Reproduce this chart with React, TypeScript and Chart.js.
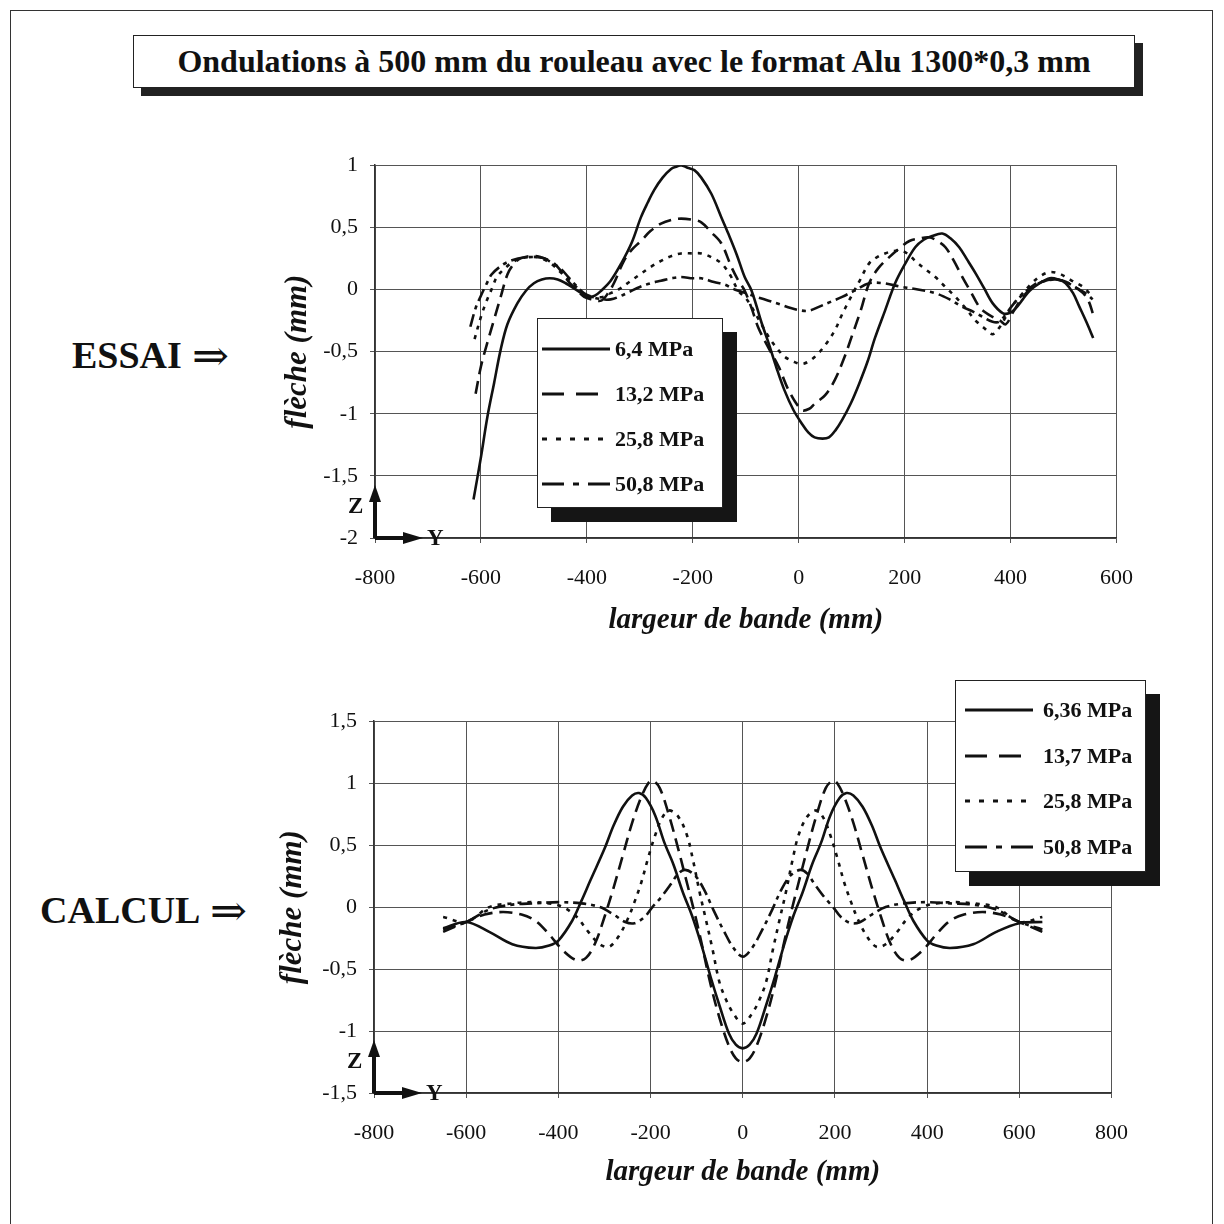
import React, { useEffect, useRef } from "react";
import { Chart, registerables } from "chart.js";

Chart.register(...registerables);

// ---------- DATA ----------
const titleText = "Ondulations à 500 mm du rouleau avec le format Alu 1300*0,3 mm";
const xAxisTitle = "largeur de bande (mm)";
const yAxisTitle = "flèche (mm)";

// ESSAI (measured) : [largeur (mm), flèche (mm)]
const essaiLabels = ["6,4 MPa", "13,2 MPa", "25,8 MPa", "50,8 MPa"];
const essai64: [number, number][] = [
  [-614, -1.69], [-600, -1.35], [-588, -1.03], [-575, -0.75], [-563, -0.49], [-550, -0.28], [-531, -0.11],
  [-515, -0.01], [-500, 0.05], [-485, 0.08], [-470, 0.09], [-455, 0.08], [-440, 0.05], [-425, 0.01],
  [-410, -0.03], [-398, -0.06], [-385, -0.05], [-373, -0.01], [-355, 0.07], [-335, 0.21], [-315, 0.38],
  [-298, 0.58], [-285, 0.7], [-273, 0.8], [-257, 0.9], [-241, 0.97], [-230, 0.99], [-222, 1.0],
  [-210, 0.98], [-197, 0.96], [-184, 0.9], [-165, 0.77], [-146, 0.58], [-133, 0.45], [-117, 0.28],
  [-102, 0.1], [-89, -0.01], [-70, -0.27], [-57, -0.43], [-42, -0.63], [-27, -0.81], [-10, -0.97],
  [6, -1.08], [18, -1.15], [30, -1.19], [45, -1.2], [57, -1.19], [70, -1.13], [82, -1.05], [98, -0.92],
  [114, -0.76], [130, -0.58], [144, -0.39], [163, -0.17], [182, 0.05], [200, 0.2], [220, 0.34],
  [236, 0.4], [252, 0.43], [271, 0.45], [287, 0.41], [303, 0.34], [318, 0.24], [334, 0.13], [350, 0.01],
  [366, -0.11], [385, -0.19], [398, -0.19], [410, -0.15], [423, -0.08], [436, -0.01], [455, 0.05],
  [474, 0.09], [490, 0.08], [504, 0.05], [518, -0.03], [530, -0.14], [543, -0.26], [556, -0.39],
];
const essai132: [number, number][] = [
  [-610, -0.84], [-600, -0.62], [-588, -0.43], [-575, -0.24], [-562, -0.05], [-550, 0.12], [-537, 0.21],
  [-525, 0.25], [-505, 0.27], [-487, 0.26], [-474, 0.24], [-462, 0.21], [-449, 0.15], [-436, 0.07],
  [-420, 0.0], [-405, -0.06], [-390, -0.08], [-373, -0.09], [-360, -0.03], [-349, 0.05], [-330, 0.23],
  [-315, 0.32], [-298, 0.39], [-280, 0.47], [-260, 0.53], [-240, 0.56], [-222, 0.57], [-200, 0.56],
  [-184, 0.54], [-165, 0.46], [-146, 0.37], [-127, 0.18], [-115, 0.08], [-102, -0.01], [-89, -0.15],
  [-76, -0.31], [-57, -0.47], [-38, -0.62], [-18, -0.82], [6, -0.97], [20, -0.96], [30, -0.92],
  [50, -0.85], [68, -0.73], [85, -0.56], [100, -0.38], [117, -0.17], [133, 0.05], [150, 0.17],
  [171, 0.26], [190, 0.33], [209, 0.39], [228, 0.41], [246, 0.42], [262, 0.39], [277, 0.34], [293, 0.23],
  [309, 0.1], [325, -0.02], [341, -0.14], [354, -0.19], [366, -0.22], [380, -0.25], [391, -0.28],
  [405, -0.18], [423, -0.06], [445, 0.03], [466, 0.07], [485, 0.08], [499, 0.07], [518, 0.03],
  [537, -0.03], [548, -0.1], [555, -0.19],
];
const essai258: [number, number][] = [
  [-612, -0.4], [-600, -0.22], [-590, -0.1], [-578, 0.02], [-570, 0.1], [-555, 0.17], [-540, 0.22],
  [-525, 0.25], [-510, 0.26], [-495, 0.26], [-480, 0.24], [-465, 0.2], [-450, 0.14], [-435, 0.08],
  [-420, 0.02], [-405, -0.04], [-390, -0.06], [-370, -0.06], [-355, -0.03], [-340, 0.0], [-320, 0.06],
  [-300, 0.12], [-280, 0.18], [-260, 0.23], [-240, 0.27], [-222, 0.29], [-200, 0.29], [-184, 0.29],
  [-165, 0.26], [-146, 0.21], [-130, 0.12], [-114, -0.01], [-100, -0.07], [-89, -0.14], [-73, -0.26],
  [-57, -0.38], [-40, -0.48], [-27, -0.54], [-10, -0.58], [6, -0.6], [22, -0.57], [38, -0.51],
  [53, -0.43], [68, -0.33], [82, -0.2], [95, -0.09], [115, 0.07], [133, 0.21], [148, 0.26], [163, 0.29],
  [180, 0.31], [195, 0.31], [208, 0.28], [220, 0.23], [240, 0.16], [258, 0.1], [277, 0.02], [296, -0.06],
  [315, -0.15], [334, -0.25], [350, -0.31], [366, -0.36], [380, -0.3], [391, -0.22], [405, -0.12],
  [423, -0.03], [440, 0.05], [457, 0.11], [474, 0.14], [490, 0.13], [504, 0.1], [520, 0.06], [537, 0.02],
  [555, -0.06],
];
const essai508: [number, number][] = [
  [-620, -0.3], [-610, -0.15], [-600, -0.05], [-590, 0.04], [-580, 0.12], [-565, 0.18], [-550, 0.22],
  [-530, 0.25], [-510, 0.26], [-495, 0.26], [-480, 0.25], [-465, 0.21], [-450, 0.17], [-435, 0.1],
  [-420, 0.03], [-405, -0.03], [-390, -0.06], [-370, -0.08], [-355, -0.08], [-340, -0.06], [-320, -0.02],
  [-300, 0.02], [-280, 0.05], [-260, 0.07], [-240, 0.09], [-222, 0.1], [-200, 0.09], [-184, 0.09],
  [-160, 0.06], [-140, 0.04], [-121, 0.0], [-100, -0.03], [-80, -0.06], [-57, -0.09], [-35, -0.12],
  [-15, -0.15], [6, -0.17], [20, -0.17], [38, -0.14], [60, -0.1], [82, -0.06], [105, -0.01], [133, 0.05],
  [160, 0.05], [195, 0.02], [225, 0.0], [258, -0.03], [285, -0.08], [309, -0.14], [330, -0.18],
  [347, -0.22], [366, -0.26], [378, -0.26], [391, -0.2], [405, -0.12], [423, -0.04], [445, 0.04],
  [466, 0.07], [485, 0.08], [505, 0.06], [525, 0.01], [542, -0.03], [555, -0.08],
];

// CALCUL (computed) : [largeur (mm), flèche (mm)]
const calculLabels = ["6,36 MPa", "13,7 MPa", "25,8 MPa", "50,8 MPa"];
const calcul636: [number, number][] = [
  [-650, -0.17], [-600, -0.12], [-550, -0.2], [-500, -0.3], [-450, -0.33], [-420, -0.31], [-400, -0.27],
  [-370, -0.11], [-350, 0.05], [-330, 0.22], [-300, 0.47], [-280, 0.66], [-260, 0.81], [-240, 0.9],
  [-225, 0.92], [-210, 0.88], [-190, 0.74], [-170, 0.52], [-150, 0.34], [-130, 0.12], [-110, -0.07],
  [-90, -0.3], [-70, -0.56], [-50, -0.8], [-30, -1.02], [-15, -1.11], [0, -1.14], [15, -1.11],
  [30, -1.02], [50, -0.8], [70, -0.56], [90, -0.3], [110, -0.07], [130, 0.12], [150, 0.34], [170, 0.52],
  [190, 0.74], [210, 0.88], [225, 0.92], [240, 0.9], [260, 0.81], [280, 0.66], [300, 0.47], [330, 0.22],
  [350, 0.05], [370, -0.11], [400, -0.27], [420, -0.31], [450, -0.33], [500, -0.3], [550, -0.2],
  [600, -0.13], [650, -0.12],
];
const calcul137: [number, number][] = [
  [-650, -0.2], [-600, -0.12], [-560, -0.06], [-520, -0.04], [-480, -0.06], [-450, -0.11], [-420, -0.22],
  [-390, -0.35], [-360, -0.43], [-340, -0.41], [-320, -0.29], [-300, -0.08], [-280, 0.16], [-260, 0.42],
  [-240, 0.68], [-220, 0.89], [-205, 1.0], [-195, 1.02], [-180, 0.96], [-160, 0.74], [-140, 0.47],
  [-120, 0.18], [-105, -0.04], [-90, -0.28], [-70, -0.62], [-50, -0.9], [-30, -1.12], [-15, -1.22],
  [0, -1.25], [15, -1.22], [30, -1.12], [50, -0.9], [70, -0.62], [90, -0.28], [105, -0.04], [120, 0.18],
  [140, 0.47], [160, 0.74], [180, 0.96], [195, 1.02], [205, 1.0], [220, 0.89], [240, 0.68], [260, 0.42],
  [280, 0.16], [300, -0.08], [320, -0.29], [340, -0.41], [360, -0.43], [390, -0.35], [420, -0.22],
  [450, -0.11], [480, -0.06], [520, -0.04], [560, -0.06], [600, -0.12], [650, -0.2],
];
const calcul258: [number, number][] = [
  [-650, -0.08], [-600, -0.12], [-550, 0.0], [-500, 0.03], [-460, 0.04], [-420, 0.03], [-390, 0.0],
  [-360, -0.08], [-335, -0.2], [-310, -0.3], [-290, -0.32], [-270, -0.24], [-250, -0.1], [-235, 0.04],
  [-220, 0.2], [-205, 0.4], [-190, 0.58], [-175, 0.72], [-160, 0.78], [-140, 0.73], [-121, 0.58],
  [-108, 0.38], [-93, 0.11], [-80, -0.1], [-65, -0.35], [-51, -0.6], [-36, -0.75], [-20, -0.86],
  [0, -0.94], [20, -0.86], [36, -0.75], [51, -0.6], [65, -0.35], [80, -0.1], [93, 0.11], [108, 0.38],
  [121, 0.58], [140, 0.73], [160, 0.78], [175, 0.72], [190, 0.58], [205, 0.4], [220, 0.2], [235, 0.04],
  [250, -0.1], [270, -0.24], [290, -0.32], [310, -0.3], [335, -0.2], [360, -0.08], [390, 0.0],
  [420, 0.03], [460, 0.04], [500, 0.03], [550, 0.0], [600, -0.12], [650, -0.08],
];
const calcul508: [number, number][] = [
  [-650, -0.18], [-600, -0.12], [-550, -0.02], [-500, 0.02], [-450, 0.03], [-400, 0.04], [-350, 0.03],
  [-310, 0.0], [-280, -0.06], [-255, -0.12], [-235, -0.13], [-213, -0.08], [-196, 0.0], [-177, 0.08],
  [-155, 0.19], [-140, 0.27], [-125, 0.3], [-105, 0.26], [-85, 0.15], [-64, -0.02], [-40, -0.2],
  [-20, -0.33], [0, -0.4], [20, -0.33], [40, -0.2], [64, -0.02], [85, 0.15], [105, 0.26], [125, 0.3],
  [140, 0.27], [155, 0.19], [177, 0.08], [196, 0.0], [213, -0.08], [235, -0.13], [255, -0.12],
  [280, -0.06], [310, 0.0], [350, 0.03], [400, 0.04], [450, 0.03], [500, 0.02], [550, -0.02],
  [600, -0.12], [650, -0.18],
];

const essaiXTicks = { min: -800, max: 600, step: 200 };
const essaiYTicks = { min: -2, max: 1, step: 0.5 };
const calculXTicks = { min: -800, max: 800, step: 200 };
const calculYTicks = { min: -1.5, max: 1.5, step: 0.5 };

// ---------- STYLE ----------
const SERIF = "'Liberation Serif', 'Times New Roman', 'DejaVu Serif', serif";
const INK = "#111";
const chartDashes: number[][] = [[], [13, 7], [4, 6], [13, 5, 4, 5]];
const legendDashes: string[] = ["", "22 12", "5 9", "22 9 6 9"];

type Cfg = {
  left: number;
  top: number;
  width: number;
  height: number;
  series: [number, number][][];
  xr: { min: number; max: number; step: number };
  yr: { min: number; max: number; step: number };
  yAxisWidth: number;
  xAxisHeight: number;
  padRight: number;
  padTop: number;
  yTitlePad: number;
  xTitlePad: number;
};

const fmt = (v: number | string) => String(v).replace(".", ",");

function ChartBox(props: { cfg: Cfg }) {
  const ref = useRef<HTMLCanvasElement | null>(null);
  const c = props.cfg;
  useEffect(() => {
    if (!ref.current) return;
    const chart = new Chart(ref.current, {
      type: "scatter",
      data: {
        datasets: c.series.map((s, i) => ({
          data: s.map(([x, y]) => ({ x, y })),
          showLine: true,
          borderColor: INK,
          backgroundColor: INK,
          borderWidth: 2.6,
          borderDash: chartDashes[i],
          pointRadius: 0,
          tension: 0.35,
        })),
      },
      options: {
        responsive: false,
        animation: false,
        devicePixelRatio: 1,
        layout: { padding: { left: 0, right: c.padRight, top: c.padTop, bottom: 0 } },
        plugins: { legend: { display: false }, tooltip: { enabled: false } },
        scales: {
          x: {
            type: "linear",
            min: c.xr.min,
            max: c.xr.max,
            afterFit: (s: any) => {
              s.height = c.xAxisHeight;
            },
            ticks: {
              stepSize: c.xr.step,
              autoSkip: false,
              maxRotation: 0,
              padding: 22,
              color: INK,
              font: { family: SERIF, size: 22 },
              callback: (v: any) => fmt(v),
            },
            grid: { color: "#555", lineWidth: 1, tickLength: 5, drawTicks: true },
            border: { color: "#333", width: 1.5 },
            title: {
              display: true,
              text: xAxisTitle,
              color: INK,
              font: { family: SERIF, size: 29, weight: "bold", style: "italic", lineHeight: 1.2 },
              padding: { top: 0, bottom: c.xTitlePad },
            },
          },
          y: {
            type: "linear",
            min: c.yr.min,
            max: c.yr.max,
            afterFit: (s: any) => {
              s.width = c.yAxisWidth;
            },
            ticks: {
              stepSize: c.yr.step,
              autoSkip: false,
              padding: 12,
              color: INK,
              font: { family: SERIF, size: 22 },
              callback: (v: any) => fmt(v),
            },
            grid: { color: "#555", lineWidth: 1, tickLength: 5, drawTicks: true },
            border: { color: "#333", width: 1.5 },
            title: {
              display: true,
              text: yAxisTitle,
              color: INK,
              font: { family: SERIF, size: 31, weight: "bold", style: "italic", lineHeight: 1.2 },
              padding: { top: c.yTitlePad, bottom: 0 },
            },
          },
        },
      } as any,
    });
    return () => chart.destroy();
  }, []);
  return (
    <canvas
      ref={ref}
      width={c.width}
      height={c.height}
      style={{ position: "absolute", left: c.left, top: c.top, width: c.width, height: c.height }}
    />
  );
}

function Legend(props: { left: number; top: number; width: number; height: number; labels: string[]; lineX: number; textX: number; rowTop: number; rowGap: number }) {
  const p = props;
  return (
    <div
      style={{
        position: "absolute",
        left: p.left,
        top: p.top,
        width: p.width,
        height: p.height,
        boxSizing: "border-box",
        background: "#fff",
        border: "1.5px solid #222",
        boxShadow: "14px 14px 0 #151515",
      }}
    >
      {p.labels.map((lab, i) => (
        <div key={i} style={{ position: "absolute", left: 0, top: p.rowTop + i * p.rowGap - 14, height: 28, width: "100%" }}>
          <svg width={70} height={28} style={{ position: "absolute", left: p.lineX, top: 0 }}>
            <line x1={0} y1={14} x2={68} y2={14} stroke={INK} strokeWidth={3.2} strokeDasharray={legendDashes[i] || undefined} />
          </svg>
          <span
            style={{
              position: "absolute",
              left: p.textX,
              top: 0,
              lineHeight: "28px",
              fontFamily: SERIF,
              fontWeight: "bold",
              fontSize: 22,
              color: INK,
              whiteSpace: "nowrap",
            }}
          >
            {lab}
          </span>
        </div>
      ))}
    </div>
  );
}

function AxisIcon(props: { x: number; y: number }) {
  const { x, y } = props;
  return (
    <>
      <svg width={120} height={90} style={{ position: "absolute", left: x - 40, top: y - 70, overflow: "visible" }}>
        <rect x={52} y={58} width={26} height={24} fill="#fff" />
        <line x1={40} y1={70} x2={40} y2={30} stroke={INK} strokeWidth={4} />
        <polygon points="34,34 46,34 40,17" fill={INK} />
        <line x1={40} y1={70} x2={72} y2={70} stroke={INK} strokeWidth={4} />
        <polygon points="68,64 68,76 88,70" fill={INK} />
      </svg>
      <span style={{ position: "absolute", left: x - 27, top: y - 45, fontFamily: SERIF, fontWeight: "bold", fontSize: 23, lineHeight: "26px", color: INK }}>Z</span>
      <span style={{ position: "absolute", left: x + 52, top: y - 13, fontFamily: SERIF, fontWeight: "bold", fontSize: 23, lineHeight: "26px", color: INK }}>Y</span>
    </>
  );
}

function SideLabel(props: { left: number; top: number; text: string }) {
  return (
    <div style={{ position: "absolute", left: props.left, top: props.top, height: 44, display: "flex", alignItems: "center", whiteSpace: "nowrap", color: INK, fontFamily: SERIF, fontWeight: "bold" }}>
      <span style={{ fontSize: 38 }}>{props.text}</span>
      <span style={{ fontSize: 42, marginLeft: 10, fontFamily: "'DejaVu Serif', serif", fontWeight: "normal", transform: "scaleX(1.05)", transformOrigin: "left center" }}>⇒</span>
    </div>
  );
}

export default function App() {
  const essaiCfg: Cfg = {
    left: 270,
    top: 140,
    width: 885,
    height: 510,
    series: [essai64, essai132, essai258, essai508],
    xr: essaiXTicks,
    yr: essaiYTicks,
    yAxisWidth: 105,
    xAxisHeight: 112,
    padRight: 24,
    padTop: 24,
    yTitlePad: 9,
    xTitlePad: 12,
  };
  const calculCfg: Cfg = {
    left: 270,
    top: 696,
    width: 880,
    height: 509,
    series: [calcul636, calcul137, calcul258, calcul508],
    xr: calculXTicks,
    yr: calculYTicks,
    yAxisWidth: 104,
    xAxisHeight: 112,
    padRight: 24,
    padTop: 24,
    yTitlePad: 4,
    xTitlePad: 15,
  };
  return (
    <div style={{ position: "absolute", left: 0, top: 0, width: 1224, height: 1224, background: "#fff", overflow: "hidden" }}>
      <div style={{ position: "absolute", left: 10, top: 10, width: 1203, height: 1230, border: "1.5px solid #333", boxSizing: "border-box" }} />
      <div
        style={{
          position: "absolute",
          left: 133,
          top: 35,
          width: 1002,
          height: 53,
          boxSizing: "border-box",
          border: "1.5px solid #222",
          background: "#fff",
          boxShadow: "8px 8px 0 #222",
          display: "flex",
          alignItems: "center",
          justifyContent: "center",
          fontFamily: SERIF,
          fontWeight: "bold",
          fontSize: 32,
          color: INK,
          whiteSpace: "nowrap",
        }}
      >
        {titleText}
      </div>

      <ChartBox cfg={essaiCfg} />
      <ChartBox cfg={calculCfg} />

      <SideLabel left={72} top={333} text="ESSAI" />
      <SideLabel left={40} top={888} text="CALCUL" />

      <Legend left={537} top={318} width={186} height={190} labels={essaiLabels} lineX={4} textX={77} rowTop={30} rowGap={45} />
      <Legend left={955} top={680} width={191} height={192} labels={calculLabels} lineX={9} textX={87} rowTop={29} rowGap={45.5} />

      <AxisIcon x={375} y={538} />
      <AxisIcon x={374} y={1093} />
    </div>
  );
}
